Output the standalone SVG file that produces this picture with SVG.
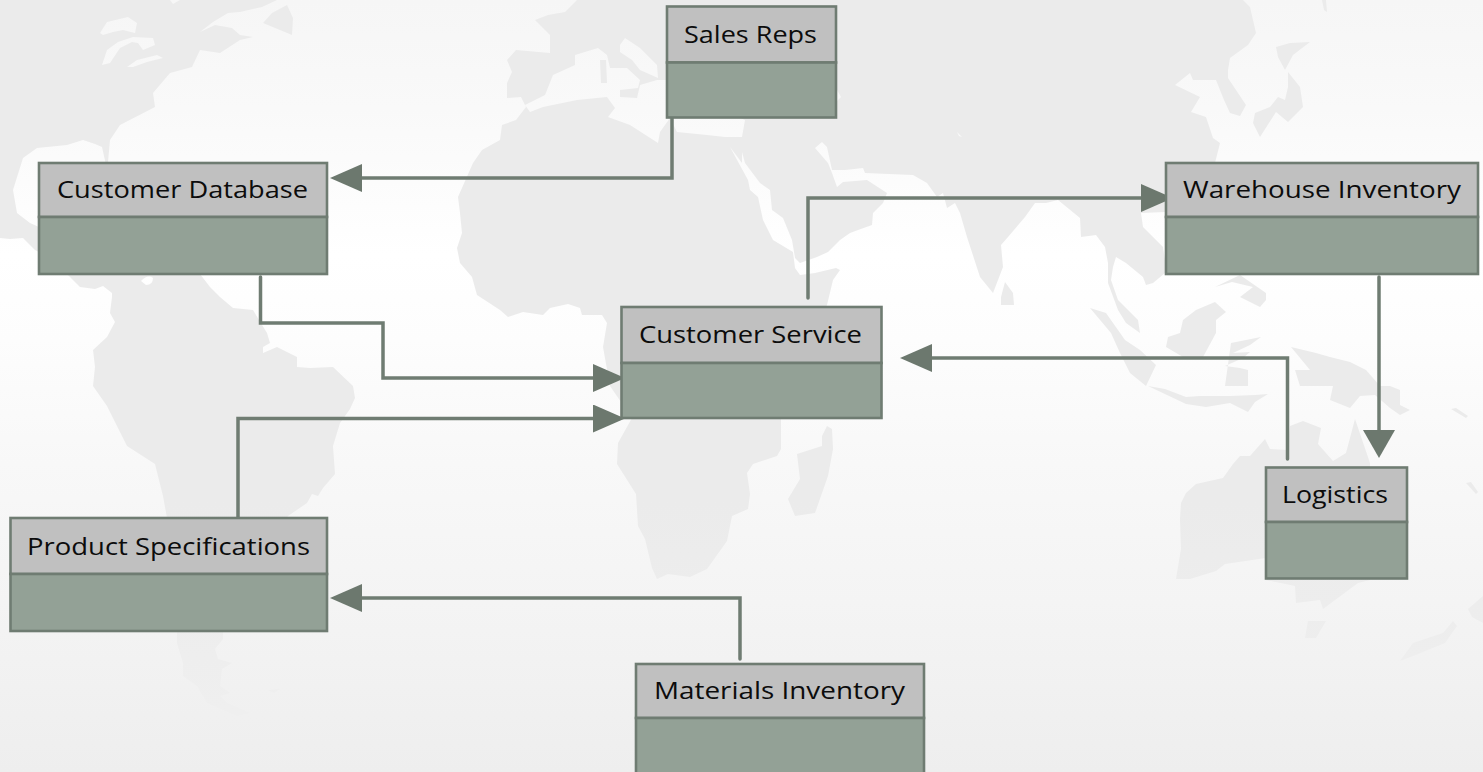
<svg xmlns="http://www.w3.org/2000/svg" width="1483" height="772" viewBox="0 0 1483 772">
<style>
.head{fill:#c0c0c0;stroke:#6f7c72;stroke-width:2.6}
.body{fill:#93a196;stroke:#6f7c72;stroke-width:2.6}
.label{font-family:"Open Sans","Noto Sans","Liberation Sans",sans-serif;font-size:24.5px;fill:#0c0c0c}
.link{fill:none;stroke:#6f7c72;stroke-width:3.5;stroke-linecap:round;stroke-linejoin:miter}
.land{fill:url(#landGrad);fill-rule:evenodd}
</style>
<defs>
<linearGradient id="seaGrad" gradientUnits="userSpaceOnUse" x1="0" y1="0" x2="0" y2="772">
<stop offset="0" stop-color="#f6f6f6"/><stop offset="0.14" stop-color="#f9f9f9"/><stop offset="0.33" stop-color="#ffffff"/><stop offset="0.44" stop-color="#fdfdfd"/><stop offset="0.6" stop-color="#f8f8f8"/><stop offset="0.78" stop-color="#f4f4f4"/><stop offset="1" stop-color="#eeeeee"/>
</linearGradient>
<linearGradient id="landGrad" gradientUnits="userSpaceOnUse" x1="0" y1="0" x2="0" y2="772">
<stop offset="0" stop-color="#ebebeb"/><stop offset="0.65" stop-color="#ebebeb"/><stop offset="0.92" stop-color="#efefef"/>
</linearGradient>
<marker id="arrowH" markerUnits="userSpaceOnUse" markerWidth="32" markerHeight="28" refX="0" refY="14" orient="auto"><path d="M0,0L32,14L0,28Z" fill="#6c786e"/></marker>
<marker id="arrowV" markerUnits="userSpaceOnUse" markerWidth="28" markerHeight="32" refX="0" refY="16" orient="auto"><path d="M0,0L28,16L0,32Z" fill="#6c786e"/></marker>
</defs>
<rect id="sea" width="1483" height="772" fill="url(#seaGrad)"/>
<g id="worldmap">
<path class="land" d="M0,0L170,0L173,4L180,0L277,0L262,7L240,12L228,13L213,22L200,32L215,25L232,28L240,35L253,37L240,40L220,53L200,50L192,67L170,73L153,93L155,107L120,125L110,140L108,162L106,165L102,147L95,144L83,140L67,145L37,148L23,158L13,190L17,213L30,223L39,227L39,252L35,250L23,238L10,239L0,238Z
M100,33L107,22L128,17L137,23L135,33L123,30L113,32L103,35Z
M102,65L107,50L118,42L133,37L153,38L155,45L143,50L138,43L132,42L120,48L110,63Z
M127,67L137,60L157,55L163,58L147,62L133,67Z"/>
<path class="land" d="M263,23L272,13L287,5L293,18L292,35L280,30Z"/>
<path class="land" d="M67,274L80,287L95,289L103,286L112,293L112,297L110,313L115,322L107,337L93,350L95,367L93,386L107,406L127,446L155,464L163,496L167,518L177,633L177,643L183,663L183,676L197,686L207,703L237,716L250,713L227,703L220,696L230,693L220,686L222,669L232,663L218,659L215,649L223,639L223,633L288,516L307,503L312,494L318,496L323,488L335,474L333,446L340,423L350,409L355,398L353,386L333,367L310,368L297,367L297,357L277,347L263,353L263,347L270,343L267,333L253,310L233,308L220,297L210,287L200,274Z
M141,281Q148,274 153,278Q153,285 146,285Z"/>
<path class="land" d="M268,690L280,689L274,693Z"/>
<path class="land" d="M1243,0L1250,7L1256,33L1248,45L1230,58L1228,70L1228,78L1246,105L1240,116L1230,113L1224,100L1216,80L1193,80L1190,73L1175,85L1200,97L1191,112L1206,117L1213,138L1220,143L1215,163L1190,205L1166,212L1141,213L1143,227L1163,247L1166,267L1165,273L1153,283L1146,285L1143,277L1126,263L1116,257L1113,267L1111,280L1118,300L1138,320L1140,333L1126,323L1118,310L1108,283L1108,263L1105,247L1096,235L1081,237L1080,218L1058,200L1046,203L1035,203L1025,217L1008,237L1001,245L1003,267L993,293L980,277L967,237L960,213L955,203L947,208L943,193L937,197L927,183L913,175L865,173L863,168L845,170L832,170L827,147L822,142L815,148L828,163L832,173L837,187L843,182L867,180L887,193L883,203L873,213L872,225L858,230L850,233L840,240L828,252L817,257L800,263L795,258L792,240L783,218L772,210L770,190L760,183L745,163L742,152L742,163L730,147L748,180L750,190L758,197L763,220L773,240L793,252L795,268L800,275L815,273L836,268L840,270L833,280L827,305L781,418L781,449L777,456L753,464L747,473L750,494L748,509L732,516L727,541L707,569L690,577L668,574L657,579L652,568L645,539L638,526L636,494L617,464L618,443L632,418L610,386L603,347L607,323L602,315L582,315L580,308L568,304L550,308L543,315L523,312L508,317L500,310L477,295L472,277L460,263L457,248L462,233L460,213L458,197L473,163L482,150L500,140L502,125L516,120L526,107L521,97L507,98L507,83L512,72L507,60L516,50L550,53L550,35L535,20L548,15L565,12L577,0Z
M525,105L530,112L543,107L577,100L607,97L615,108L608,117L630,125L658,143L660,132L670,118L677,132L707,135L725,137L742,137L745,120L700,100L667,80L657,80L640,85L637,98L620,97L620,90L638,88L640,80L627,68L610,68L607,55L598,48L575,55L575,65L553,75L545,95Z
M620,45L625,38L640,48L657,65L658,78L640,70L632,60L620,52Z
M600,60L606,60L607,83L601,83Z
M836,88L841,97L836,102L830,100Z
M957,132L962,137L959,136Z"/>
<path class="land" d="M797,454L822,446L822,436L827,426L832,429L833,449L828,476L815,513L795,516L788,499L800,479Z"/>
<path class="land" d="M1001,297L1005,282L1013,293L1014,305L1001,305Z"/>
<path class="land" d="M1276,47L1290,43L1310,42L1293,55L1285,70L1278,57Z"/>
<path class="land" d="M1288,72L1300,87L1303,107L1288,122L1276,112L1260,137L1253,123L1255,113L1270,107L1278,97L1285,100L1288,87Z"/>
<path class="land" d="M1322,0L1326,0L1327,12L1324,10Z"/>
<path class="land" d="M1090,308L1106,313L1125,340L1140,350L1156,365L1146,386L1130,373L1120,353L1111,333Z"/>
<path class="land" d="M1148,386L1165,389L1186,397L1200,396L1230,396L1255,395L1268,394L1255,402L1248,412L1230,403L1206,407L1186,404Z"/>
<path class="land" d="M1166,347L1168,337L1180,333L1183,320L1196,310L1215,302L1226,312L1216,320L1216,333L1203,357L1183,357Z"/>
<path class="land" d="M1231,343L1261,337L1250,345L1233,353L1250,352L1243,358L1225,366L1240,368L1248,370L1248,386L1225,386Z"/>
<path class="land" d="M1215,287L1240,275L1266,293L1266,300L1260,307L1240,297L1253,287L1232,282Z"/>
<path class="land" d="M1291,347L1316,353L1330,357L1350,362L1366,370L1380,386L1390,386L1400,390L1400,405L1410,410L1400,415L1390,408L1375,395L1360,396L1350,408L1330,400L1333,386L1300,386L1295,370L1310,370Z"/>
<path class="land" d="M1176,579L1190,579L1216,571L1225,564L1266,558L1358,583L1323,609L1320,600L1296,603L1295,586L1266,580L1370,463L1355,419L1346,453L1333,461L1318,444L1321,428L1303,421L1290,426L1287,450L1270,449L1265,439L1250,456L1240,456L1233,464L1223,478L1196,484L1186,493L1181,503L1180,519L1181,549Z"/>
<path class="land" d="M1266,558L1266,470L1370,463L1370,580L1358,583L1296,585L1266,580Z"/>
<path class="land" d="M1308,621L1326,621L1316,638L1305,638Z"/>
<path class="land" d="M1400,661L1413,643L1443,633L1453,621L1457,626L1445,643L1413,656Z"/>
<path class="land" d="M1468,609L1483,596L1483,623L1472,617Z"/>
<path class="land" d="M1451,409L1456,408L1468,416L1466,418Z"/>
<path class="land" d="M1466,483L1471,482L1478,492L1476,494Z"/>
</g>
<g id="connectors">
<path class="link" marker-end="url(#arrowH)" d="M672,118V178H362"/>
<path class="link" marker-end="url(#arrowH)" d="M260.500,277V323H383V378H593"/>
<path class="link" marker-end="url(#arrowH)" d="M238,519V418.500H593"/>
<path class="link" marker-end="url(#arrowH)" d="M740,659V598H362"/>
<path class="link" marker-end="url(#arrowH)" d="M808,298V198H1141"/>
<path class="link" marker-end="url(#arrowH)" d="M1287.500,459V358H932"/>
<path class="link" marker-end="url(#arrowV)" d="M1379,277V430"/>
</g>
<g id="node-sales-reps"><rect class="head" x="667" y="6.500" width="169" height="56"/><rect class="body" x="667" y="62.500" width="169" height="55"/><text class="label" x="684" y="43" textLength="133" lengthAdjust="spacingAndGlyphs">Sales Reps</text></g>
<g id="node-customer-database"><rect class="head" x="39" y="163" width="288" height="54"/><rect class="body" x="39" y="217" width="288" height="57"/><text class="label" x="57" y="198" textLength="251" lengthAdjust="spacingAndGlyphs">Customer Database</text></g>
<g id="node-customer-service"><rect class="head" x="621.500" y="307" width="260" height="56"/><rect class="body" x="621.500" y="363" width="260" height="55"/><text class="label" x="639" y="343" textLength="223" lengthAdjust="spacingAndGlyphs">Customer Service</text></g>
<g id="node-warehouse-inventory"><rect class="head" x="1166" y="163" width="312" height="54"/><rect class="body" x="1166" y="217" width="312" height="57"/><text class="label" x="1183" y="198" textLength="278" lengthAdjust="spacingAndGlyphs">Warehouse Inventory</text></g>
<g id="node-product-specifications"><rect class="head" x="10.500" y="518" width="316.500" height="56"/><rect class="body" x="10.500" y="574" width="316.500" height="57"/><text class="label" x="27" y="555" textLength="283" lengthAdjust="spacingAndGlyphs">Product Specifications</text></g>
<g id="node-materials-inventory"><rect class="head" x="636" y="664" width="288" height="54"/><rect class="body" x="636" y="718" width="288" height="57"/><text class="label" x="654" y="699" textLength="251" lengthAdjust="spacingAndGlyphs">Materials Inventory</text></g>
<g id="node-logistics"><rect class="head" x="1266" y="467.500" width="141" height="54.500"/><rect class="body" x="1266" y="522" width="141" height="56.500"/><text class="label" x="1282" y="503" textLength="106" lengthAdjust="spacingAndGlyphs">Logistics</text></g>
</svg>
